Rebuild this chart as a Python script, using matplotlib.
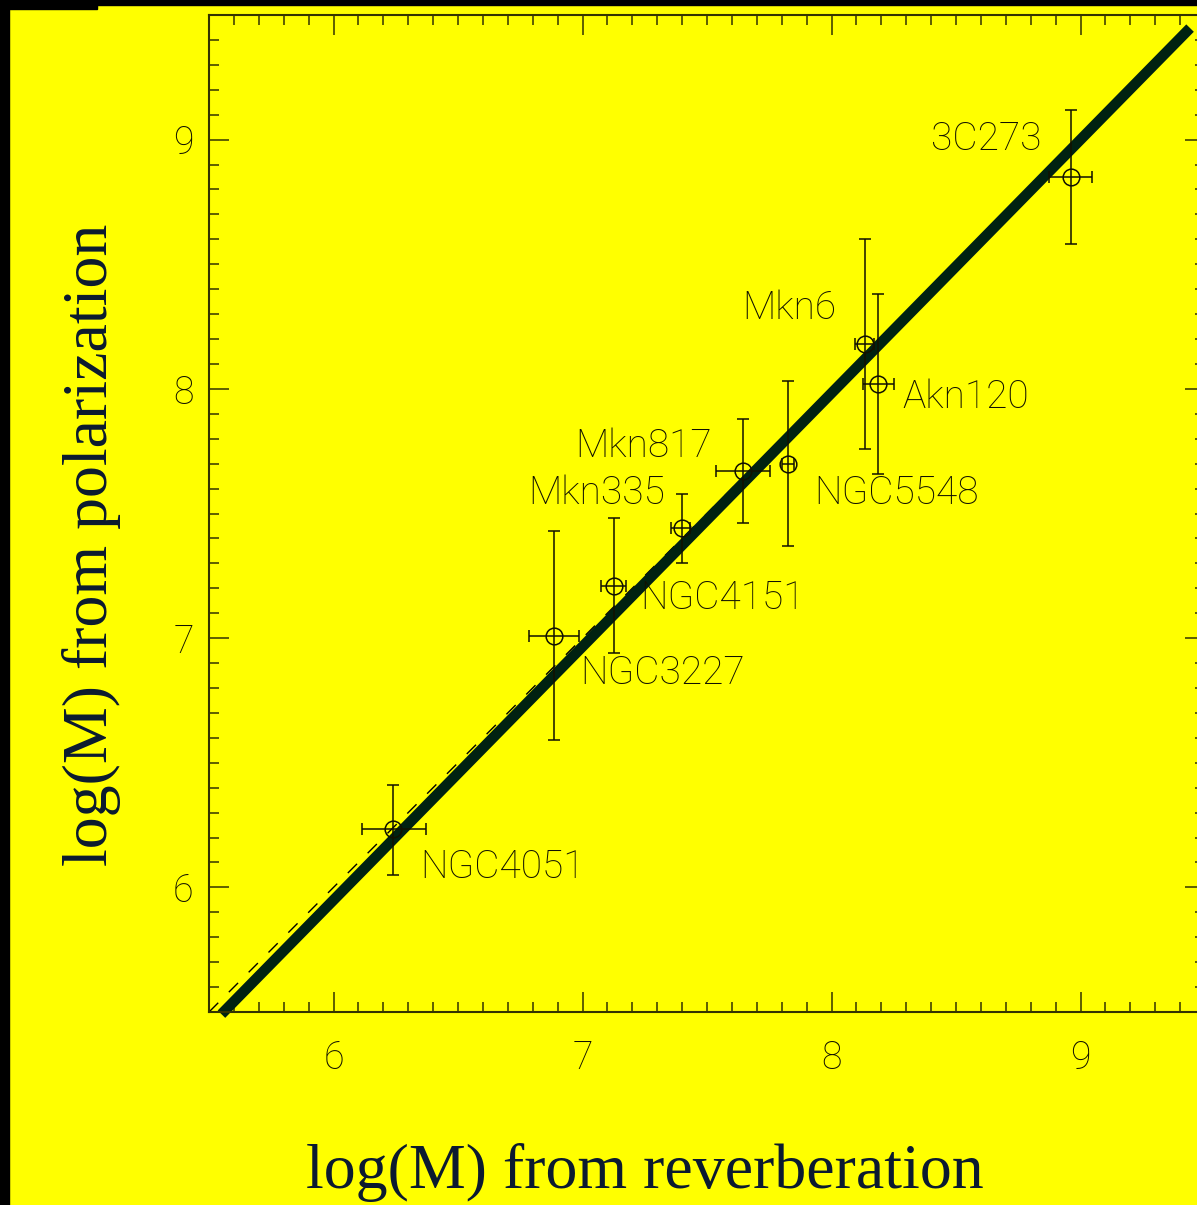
import numpy as np
import matplotlib
matplotlib.use("Agg")
import matplotlib.pyplot as plt
from matplotlib.patches import Rectangle
from matplotlib.ticker import MultipleLocator

# log(M) values
names = ["NGC4051", "NGC3227", "NGC4151", "Mkn335", "Mkn817",
         "NGC5548", "Mkn6", "Akn120", "3C273"]
m_rev = [6.24, 6.885, 7.125, 7.40, 7.645, 7.825, 8.135, 8.185, 8.96]
m_pol = [6.235, 7.01, 7.21, 7.44, 7.67, 7.70, 8.18, 8.02, 8.85]
rev_lo = [0.125, 0.10, 0.05, 0.045, 0.11, 0.025, 0.04, 0.06, 0.085]
rev_hi = [0.13, 0.10, 0.05, 0.03, 0.11, 0.025, 0.035, 0.065, 0.085]
pol_lo = [0.185, 0.42, 0.27, 0.14, 0.21, 0.33, 0.42, 0.36, 0.27]
pol_hi = [0.175, 0.42, 0.27, 0.14, 0.21, 0.33, 0.42, 0.36, 0.27]

# fitted line y = a*x + b drawn over the one-to-one line
fit_a, fit_b = 1.017, -0.153
fit_range = [5.55, 9.44]

# label anchor points (data units) and alignment
label_xy = [(6.35, 6.08), (6.99, 6.86), (7.23, 7.16), (7.33, 7.58), (7.52, 7.77),
            (7.93, 7.58), (8.02, 8.325), (8.285, 7.965), (8.845, 9.0)]
label_ha = ["left", "left", "left", "right", "right",
            "left", "right", "left", "right"]

YELLOW = "#ffff00"
INK = "#111100"
AXC = "#333300"
NAVY = "#0b1a30"

W, H = 1197, 1205
fig = plt.figure(figsize=(W / 100, H / 100), dpi=100, facecolor=YELLOW)
ax = fig.add_axes([209 / W, (H - 1012) / H, 996 / W, 997 / H], facecolor=YELLOW)

# black frame bits at the picture edge
for x0, y0, w, h in [(0, 0, 9, H), (0, 0, W, 5), (0, 0, 97, 9)]:
    fig.patches.append(Rectangle((x0 / W, 1 - (y0 + h) / H), w / W, h / H,
                                 transform=fig.transFigure, color="black", zorder=0))

ax.plot([5.5, 9.5], [5.5, 9.5], color="black", lw=1.0, ls=(0, (9.4, 10.8)), zorder=1)
fx = np.array(fit_range)
ax.plot(fx, fit_a * fx + fit_b, color="#002211", lw=7.6, solid_capstyle="butt",
        clip_on=False, zorder=2)

ax.errorbar(m_rev, m_pol, xerr=[rev_lo, rev_hi], yerr=[pol_lo, pol_hi],
            fmt="o", mfc="none", mec=INK, ms=12, mew=1.1, ecolor=INK,
            elinewidth=1.1, capsize=4.3, capthick=1.1, zorder=3)

for name, (tx, ty), ha in zip(names, label_xy, label_ha):
    ax.text(tx, ty, name, ha=ha, va="center", fontsize=28, family="Roboto",
            fontweight="light", color=INK, zorder=4)

ax.set_xlim(5.5, 9.5)
ax.set_ylim(5.5, 9.5)
ax.xaxis.set_major_locator(MultipleLocator(1))
ax.yaxis.set_major_locator(MultipleLocator(1))
ax.xaxis.set_minor_locator(MultipleLocator(0.1))
ax.yaxis.set_minor_locator(MultipleLocator(0.1))
ax.tick_params(which="both", direction="in", top=True, right=True, color=AXC, width=1.1)
ax.tick_params(which="major", length=14.4)
ax.tick_params(which="minor", length=7.2)
ax.tick_params(axis="x", pad=20)
ax.tick_params(axis="y", pad=11)
for lab in ax.get_xticklabels() + ax.get_yticklabels():
    lab.set_family("Roboto")
    lab.set_fontweight("light")
    lab.set_fontsize(27)
    lab.set_color(INK)
for sp in ax.spines.values():
    sp.set_color(AXC)
    sp.set_linewidth(1.5)

fig.text(645 / W, 1 - 1172 / H, "log(M) from reverberation", ha="center", va="center",
         family="Liberation Serif", fontsize=46, color=NAVY)
fig.text(92 / W, 1 - 545 / H, "log(M) from polarization", ha="center", va="center",
         rotation=90, family="Liberation Serif", fontsize=46, color=NAVY)

fig.savefig("out.png", dpi=100, facecolor=YELLOW)
